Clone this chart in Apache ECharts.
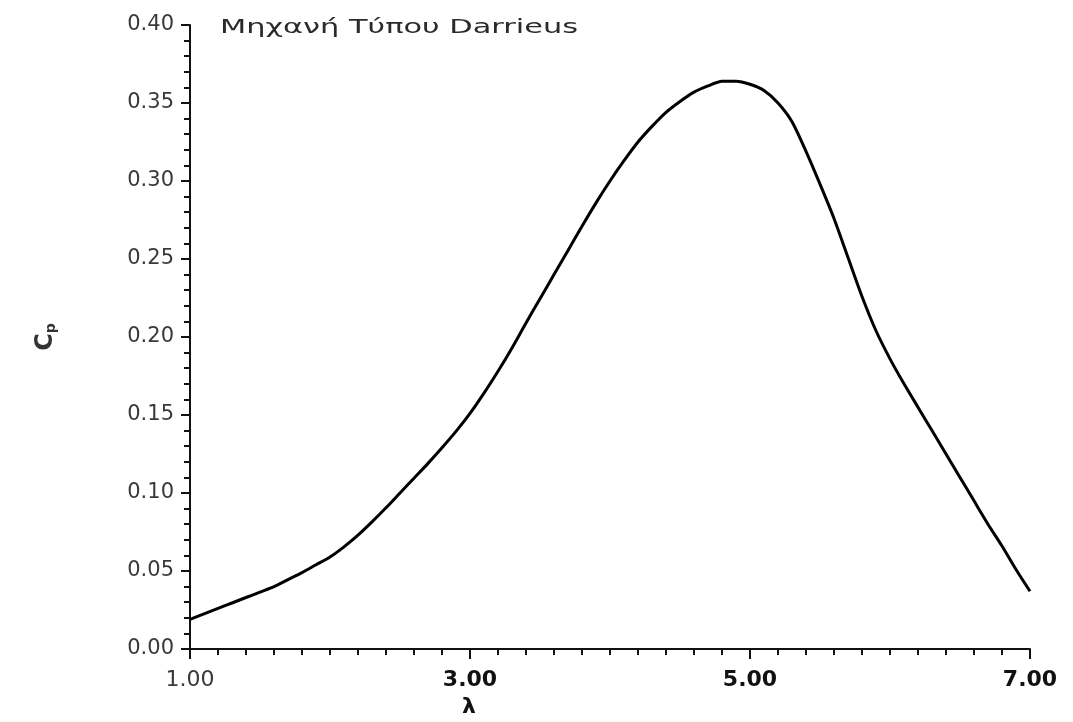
<!DOCTYPE html>
<html>
<head>
<meta charset="utf-8">
<script src="https://cdn.jsdelivr.net/npm/echarts@6/dist/echarts.min.js"></script>
<style>html,body{margin:0;padding:0;background:#fff}#c{width:1073px;height:722px}</style>
</head>
<body>
<div id="c"></div>
<script>
const lambda = [1.0,1.1,1.2,1.3,1.4,1.5,1.6,1.7,1.8,1.9,2.0,2.1,2.2,2.3,2.4,2.5,2.6,2.7,2.8,2.9,3.0,3.1,3.2,3.3,3.4,3.5,3.6,3.7,3.8,3.9,4.0,4.1,4.2,4.3,4.4,4.5,4.6,4.7,4.8,4.9,5.0,5.1,5.2,5.3,5.4,5.5,5.6,5.7,5.8,5.9,6.0,6.1,6.2,6.3,6.4,6.5,6.6,6.7,6.8,6.9,7.0];
const cp = [0.019,0.0225,0.026,0.0295,0.033,0.0365,0.040,0.0445,0.049,0.054,0.059,0.0655,0.073,0.0815,0.0905,0.100,0.1095,0.119,0.129,0.1395,0.151,0.164,0.178,0.193,0.209,0.2245,0.240,0.2555,0.271,0.286,0.300,0.313,0.325,0.335,0.344,0.351,0.357,0.361,0.364,0.364,0.362,0.358,0.350,0.338,0.319,0.298,0.276,0.251,0.226,0.204,0.186,0.170,0.155,0.140,0.125,0.110,0.095,0.080,0.066,0.051,0.037];
const title = 'Μηχανή Τύπου Darrieus';
const xName = 'λ';
const font = '"DejaVu Sans", "Liberation Sans", sans-serif';

const chart = echarts.init(document.getElementById('c'));
chart.setOption({
  animation: false,
  backgroundColor: '#fff',
  grid: {left: 190, right: 43, top: 25, bottom: 73},
  xAxis: {
    type: 'value', min: 1, max: 7, interval: 2,
    axisLine: {lineStyle: {color: '#111', width: 2}},
    axisTick: {length: 10, lineStyle: {color: '#111', width: 2}},
    minorTick: {show: true, splitNumber: 10, length: 6, lineStyle: {color: '#111', width: 2}},
    splitLine: {show: false},
    axisLabel: {
      margin: 20,
      formatter: v => v === 1 ? '{n|' + v.toFixed(2) + '}' : '{b|' + v.toFixed(2) + '}',
      rich: {
        n: {fontFamily: font, fontSize: 22, color: '#3a3a3a'},
        b: {fontFamily: font, fontSize: 22, fontWeight: 'bold', color: '#111'}
      }
    }
  },
  yAxis: {
    type: 'value', min: 0, max: 0.4, interval: 0.05,
    name: '{c|C}{p|p}', nameLocation: 'middle', nameRotate: 90, nameGap: 132,
    nameTextStyle: {
      rich: {
        c: {fontFamily: font, fontSize: 24, fontWeight: 'bold', color: '#333'},
        p: {fontFamily: font, fontSize: 14, fontWeight: 'bold', color: '#333', verticalAlign: 'bottom', padding: [10,0,0,0]}
      }
    },
    axisLine: {show: true, lineStyle: {color: '#111', width: 2}},
    axisTick: {show: true, length: 9, lineStyle: {color: '#111', width: 2}},
    minorTick: {show: true, splitNumber: 5, length: 6, lineStyle: {color: '#111', width: 2}},
    splitLine: {show: false},
    axisLabel: {
      margin: 16,
      formatter: v => v.toFixed(2),
      fontFamily: font, fontSize: 21, color: '#3a3a3a'
    }
  },
  graphic: [{
    type: 'text', left: 220, top: 19, scaleX: 1.6,
    style: {text: title, font: '19px ' + font, fill: '#2a2a2a'}
  }, {
    type: 'text', left: 462, top: 696,
    style: {text: xName, font: 'bold 22px ' + font, fill: '#111'}
  }],
  series: [{
    type: 'line',
    data: lambda.map((x, i) => [x, cp[i]]),
    smooth: 0.25,
    showSymbol: false,
    lineStyle: {color: '#000', width: 3}
  }]
});
</script>
</body>
</html>
